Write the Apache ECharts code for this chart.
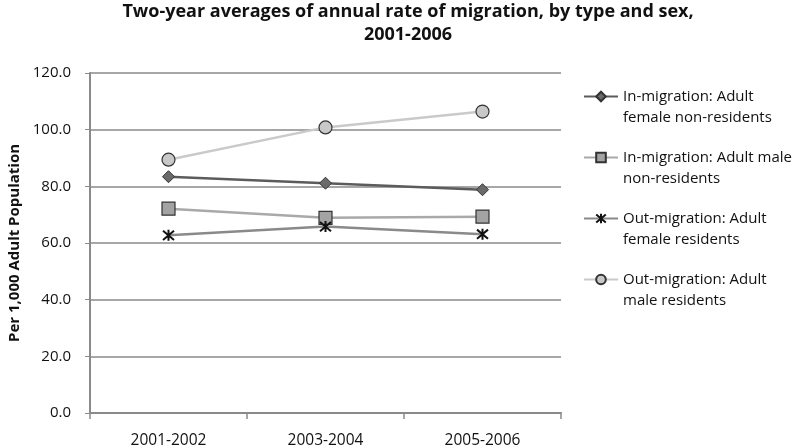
<!DOCTYPE html>
<html><head><meta charset="utf-8">
<script src="https://cdn.jsdelivr.net/npm/echarts@6/dist/echarts.min.js"></script>
<style>html,body{margin:0;padding:0;background:#fff}#c{width:800px;height:446px}</style>
</head><body><div id="c"></div>
<script>
const categories = ['2001-2002', '2003-2004', '2005-2006'];
const seriesNames = [
  'In-migration: Adult\nfemale non-residents',
  'In-migration: Adult male\nnon-residents',
  'Out-migration: Adult\nfemale residents',
  'Out-migration: Adult\nmale residents'
];
const inFemale = [83.4, 81.1, 78.8];
const inMale = [72.1, 68.9, 69.3];
const outFemale = [62.7, 65.8, 63.1];
const outMale = [89.4, 100.8, 106.4];
const yTicks = { min: 0, max: 120, interval: 20 };

const font = 'Open Sans';
const chart = echarts.init(document.getElementById('c'));
const star = 'path://M0,0L10,10M10,0L0,10M5,-1L5,11';
chart.setOption({
  animation: false,
  title: {
    text: 'Two-year averages of annual rate of migration, by type and sex,\n2001-2006',
    left: 403, top: -5, textAlign: 'center',
    textStyle: { fontFamily: font, fontSize: 18, fontWeight: 'bold', color: '#111', lineHeight: 23 }
  },
  grid: { left: 90, right: 239, top: 73, bottom: 33, containLabel: false, outerBoundsMode: 'none' },
  legend: {
    orient: 'vertical', left: 583, top: 65, itemGap: -2, padding: 0,
    itemWidth: 34, itemHeight: 12,
    formatter: name => ' \n' + name,
    textStyle: { fontFamily: font, fontSize: 15, color: '#111', lineHeight: 21 },
    data: seriesNames
  },
  xAxis: {
    type: 'category', data: categories, boundaryGap: true,
    axisLine: { lineStyle: { color: '#8a8a8a', width: 2 } },
    axisTick: { show: true, length: 6, lineStyle: { color: '#8a8a8a', width: 1.5 } },
    axisLabel: { fontFamily: font, fontSize: 15.5, color: '#111', margin: 20 }
  },
  yAxis: {
    type: 'value', min: yTicks.min, max: yTicks.max, interval: yTicks.interval,
    name: 'Per 1,000 Adult Population', nameLocation: 'middle', nameGap: 56,
    nameTextStyle: { fontFamily: font, fontSize: 15, fontWeight: 'bold', color: '#111' },
    axisLine: { show: true, lineStyle: { color: '#8a8a8a', width: 2 } },
    axisTick: { show: true, length: 5, lineStyle: { color: '#8a8a8a' } },
    splitLine: { lineStyle: { color: '#8a8a8a', width: 1.5 } },
    axisLabel: { fontFamily: font, fontSize: 15, color: '#111', margin: 19,
      formatter: v => v.toFixed(1) }
  },
  series: [
    { name: seriesNames[0], type: 'line', data: inFemale, symbol: 'diamond', symbolSize: 12,
      lineStyle: { color: '#5c5c5c', width: 2.5 },
      itemStyle: { color: '#6a6a6a', borderColor: '#333', borderWidth: 1 } },
    { name: seriesNames[1], type: 'line', data: inMale, symbol: 'rect', symbolSize: 13,
      lineStyle: { color: '#a9a9a9', width: 2.5 },
      itemStyle: { color: '#a3a3a3', borderColor: '#333', borderWidth: 1.2 } },
    { name: seriesNames[2], type: 'line', data: outFemale, symbol: star, symbolSize: 11,
      lineStyle: { color: '#8a8a8a', width: 2.5 },
      itemStyle: { color: 'transparent', borderColor: '#111', borderWidth: 2 } },
    { name: seriesNames[3], type: 'line', data: outMale, symbol: 'circle', symbolSize: 13,
      lineStyle: { color: '#cacaca', width: 2.5 },
      itemStyle: { color: '#c8c8c8', borderColor: '#333', borderWidth: 1.2 } }
  ]
});
</script></body></html>
